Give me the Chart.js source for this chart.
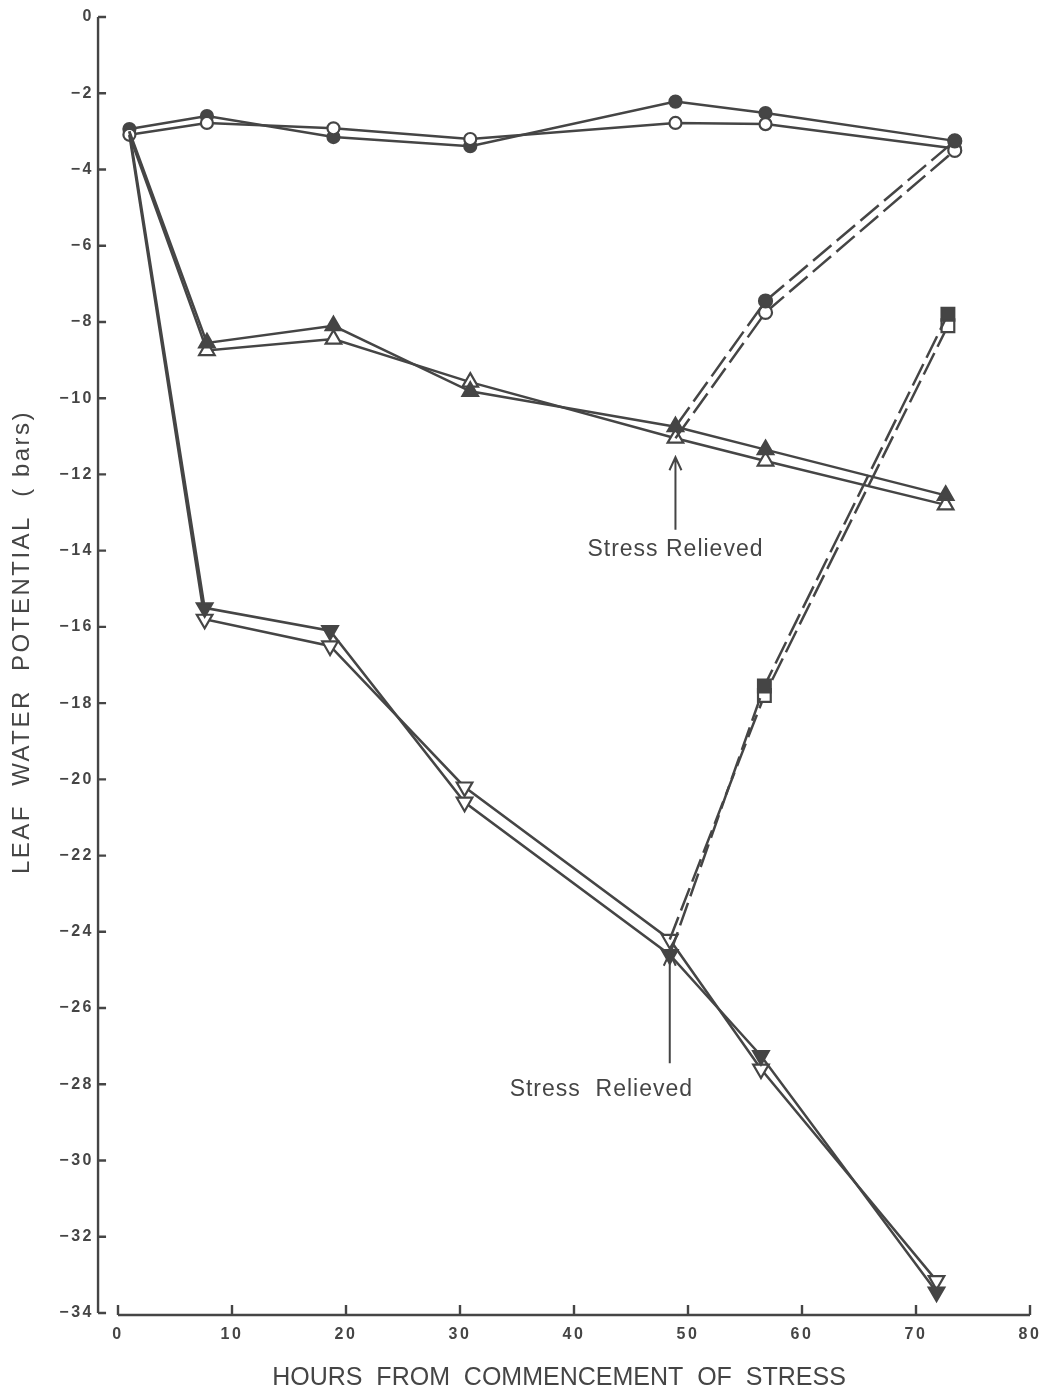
<!DOCTYPE html>
<html>
<head>
<meta charset="utf-8">
<script src="https://cdn.jsdelivr.net/npm/chart.js@4.4.1/dist/chart.umd.min.js"></script>
<style>
  html, body { margin: 0; padding: 0; background: #fff; }
  #wrap { width: 1055px; height: 1398px; }
</style>
</head>
<body>
<div id="wrap"><canvas id="chart" width="1055" height="1398"></canvas></div>
<script>
// --- data (hours, leaf water potential in bars) ---
const hoursControl  = [1.0, 7.8, 18.9, 30.9, 48.9, 56.8, 73.4];
const hoursModerate = [1.0, 7.8, 18.9, 30.9, 48.9, 56.8, 72.6];
const hoursSevere   = [1.0, 7.6, 18.6, 30.4, 48.4, 56.4, 71.8];
const hoursModRelief = [48.9, 56.8, 73.4];
const hoursSevRelief = [48.4, 56.7, 72.8];

const controlFilled  = [-2.94, -2.60, -3.15, -3.39, -2.22, -2.52, -3.25];
const controlOpen    = [-3.09, -2.78, -2.92, -3.20, -2.78, -2.81, -3.45];
const moderateFilled = [-3.00, -8.55, -8.10, -9.82, -10.75, -11.35, -12.55];
const moderateOpen   = [-3.10, -8.75, -8.45, -9.58, -11.05, -11.65, -12.80];
const severeFilled   = [-3.00, -15.50, -16.10, -20.60, -24.60, -27.25, -33.45];
const severeOpen     = [-3.10, -15.80, -16.50, -20.20, -24.20, -27.60, -33.15];
const modReliefFilled = [-10.75, -7.45, -3.25];
const modReliefOpen   = [-11.05, -7.75, -3.50];
const sevReliefFilled = [-24.60, -17.55, -7.80];
const sevReliefOpen   = [-24.20, -17.80, -8.10];

const xTicks = [0, 10, 20, 30, 40, 50, 60, 70, 80];
const yTicks = [0, -2, -4, -6, -8, -10, -12, -14, -16, -18, -20, -22, -24, -26, -28, -30, -32, -34];

const xTitle = 'HOURS  FROM  COMMENCEMENT  OF  STRESS';
const yTitle = 'LEAF  WATER  POTENTIAL  ( bars)';
// annotations in data units: arrow at x, tail/tip y, label position
const notes = [
  { x: 48.9, tail: -13.45, tip: -11.55, labelX: 48.9, labelY: -13.98, text: 'Stress Relieved' },
  { x: 48.4, tail: -27.45, tip: -24.55, labelX: 42.4, labelY: -28.15, text: 'Stress  Relieved' }
];

const ink = '#454545';

function pts(xs, ys) {
  return xs.map((h, i) => ({ x: h, y: ys[i] }));
}

function series(xs, ys, opts) {
  return Object.assign({
    data: pts(xs, ys),
    borderColor: ink,
    borderWidth: 2.5,
    pointBorderColor: ink,
    pointBorderWidth: 2.2,
    tension: 0,
    fill: false
  }, opts);
}

// first point of treatment lines sits under the control circles
function hideFirst(n, r) {
  return Array.from({ length: n }, (_, i) => i === 0 ? 0 : r);
}

const dash = [24, 7];

const datasets = [
  series(hoursModRelief, modReliefFilled, { borderDash: dash, pointStyle: 'circle', pointRadius: hideFirst(3, 6.5), pointBackgroundColor: ink }),
  series(hoursModRelief, modReliefOpen, { borderDash: dash, pointStyle: 'circle', pointRadius: hideFirst(3, 6.5), pointBackgroundColor: '#fff' }),
  series(hoursSevRelief, sevReliefFilled, { borderDash: dash, pointStyle: 'rect', pointRadius: hideFirst(3, 9), pointBackgroundColor: ink }),
  series(hoursSevRelief, sevReliefOpen, { borderDash: dash, pointStyle: 'rect', pointRadius: hideFirst(3, 9), pointBackgroundColor: '#fff' }),
  series(hoursSevere, severeFilled, { pointStyle: 'triangle', rotation: 180, pointRadius: hideFirst(7, 9),
    pointBackgroundColor: [ink, ink, ink, '#fff', ink, ink, ink] }),
  series(hoursSevere, severeOpen, { pointStyle: 'triangle', rotation: 180, pointRadius: hideFirst(7, 9), pointBackgroundColor: '#fff' }),
  series(hoursModerate, moderateFilled, { pointStyle: 'triangle', pointRadius: hideFirst(7, 9), pointBackgroundColor: ink }),
  series(hoursModerate, moderateOpen, { pointStyle: 'triangle', pointRadius: hideFirst(7, 9), pointBackgroundColor: '#fff' }),
  series(hoursControl, controlOpen, { pointStyle: 'circle', pointRadius: 6, pointBackgroundColor: '#fff' }),
  series(hoursControl, controlFilled, { pointStyle: 'circle', pointRadius: 6, pointBackgroundColor: ink })
];

// --- hand-drawn style axes, titles and arrows ---
const figurePlugin = {
  id: 'figure',
  beforeDraw(chart) {
    const ctx = chart.ctx;
    ctx.save();
    ctx.fillStyle = '#fff';
    ctx.fillRect(0, 0, chart.width, chart.height);
    ctx.restore();
    chart.ctx.letterSpacing = '2.5px';
  },
  beforeDatasetsDraw(chart) {
    const { ctx, scales: { x, y } } = chart;
    const axisX = x.getPixelForValue(-1.75);
    const baseY = y.getPixelForValue(-34) + 2;
    ctx.save();
    ctx.strokeStyle = ink;
    ctx.lineWidth = 2.4;
    ctx.beginPath();
    // y axis
    ctx.moveTo(axisX, y.getPixelForValue(0));
    ctx.lineTo(axisX, y.getPixelForValue(-34));
    yTicks.forEach(v => {
      const py = y.getPixelForValue(v);
      ctx.moveTo(axisX, py);
      ctx.lineTo(axisX + 8, py);
    });
    // x axis
    ctx.moveTo(x.getPixelForValue(0), baseY);
    ctx.lineTo(x.getPixelForValue(80), baseY);
    xTicks.forEach(v => {
      const px = x.getPixelForValue(v);
      ctx.moveTo(px, baseY);
      ctx.lineTo(px, baseY - 10);
    });
    ctx.stroke();
    ctx.restore();
  },
  afterDraw(chart) {
    const { ctx, scales: { x, y } } = chart;
    ctx.save();
    ctx.fillStyle = ink;
    ctx.strokeStyle = ink;

    // arrows + labels
    notes.forEach(n => {
      const px = x.getPixelForValue(n.x);
      const tail = y.getPixelForValue(n.tail);
      const tip = y.getPixelForValue(n.tip);
      ctx.lineWidth = 2;
      ctx.beginPath();
      ctx.moveTo(px, tail);
      ctx.lineTo(px, tip);
      ctx.moveTo(px - 6, tip + 13);
      ctx.lineTo(px, tip);
      ctx.lineTo(px + 6, tip + 13);
      ctx.stroke();
      ctx.letterSpacing = '1px';
      ctx.font = '23px "Liberation Sans", Arial, sans-serif';
      ctx.textAlign = 'center';
      ctx.textBaseline = 'middle';
      ctx.fillText(n.text, x.getPixelForValue(n.labelX), y.getPixelForValue(n.labelY));
    });

    // axis titles
    ctx.letterSpacing = '0px';
    ctx.font = '25px "Liberation Sans", Arial, sans-serif';
    ctx.textAlign = 'center';
    ctx.textBaseline = 'middle';
    ctx.fillText(xTitle, 559, 1378);

    ctx.translate(22, 642);
    ctx.rotate(-Math.PI / 2);
    ctx.letterSpacing = '2.5px';
    ctx.font = '24px "Liberation Sans", Arial, sans-serif';
    ctx.fillText(yTitle, 0, 0);
    ctx.restore();
  }
};

const tickFont = { family: 'Liberation Sans', size: 16, weight: 'bold' };

new Chart(document.getElementById('chart'), {
  type: 'line',
  data: { datasets: datasets },
  plugins: [figurePlugin],
  options: {
    responsive: false,
    animation: false,
    devicePixelRatio: 1,
    clip: false,
    layout: { padding: { top: 0, right: 25, left: 0, bottom: 0 } },
    plugins: { legend: { display: false }, tooltip: { enabled: false } },
    scales: {
      x: {
        type: 'linear',
        min: 0,
        max: 80,
        grid: { display: false, drawTicks: false },
        border: { display: false },
        afterBuildTicks: s => { s.ticks = xTicks.map(v => ({ value: v })); },
        afterFit: s => { s.height = 85; s.paddingLeft = 0; s.paddingRight = 0; },
        ticks: { color: ink, font: tickFont, padding: 12, maxRotation: 0 }
      },
      y: {
        type: 'linear',
        min: -34,
        max: 0,
        grid: { display: false, drawTicks: false },
        border: { display: false },
        afterBuildTicks: s => { s.ticks = yTicks.map(v => ({ value: v })); },
        afterFit: s => { s.width = 118; s.paddingTop = 17; s.paddingBottom = 0; },
        ticks: {
          color: ink, font: tickFont, padding: 24,
          callback: v => v === 0 ? '0' : '\u2212' + Math.abs(v)
        }
      }
    }
  }
});
</script>
</body>
</html>
